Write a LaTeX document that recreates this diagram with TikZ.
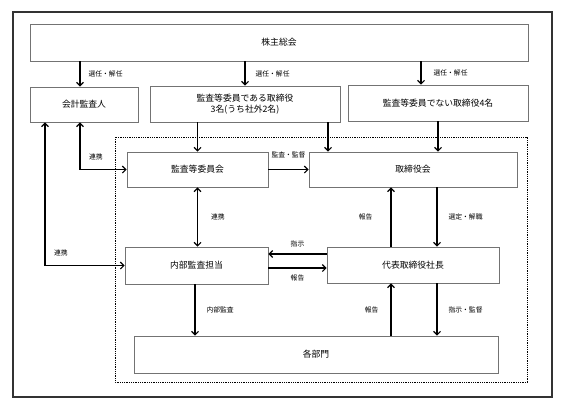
\documentclass[tikz,border=0pt]{standalone}
\usepackage{fontspec}
\newfontfamily\jpfont{Noto Sans CJK JP}
\usetikzlibrary{arrows.meta}
\tikzset{
  % basis voor de blokken
  blok/.style={%
    draw=black!55,
    line width=0.9pt,
    align=center,
    inner sep=2pt,
    font=\jpfont\fontsize{8.8}{11.5}\selectfont
  },
  maat/.style 2 args={minimum width=#1, minimum height=#2},
  % pijlen
  pijl/.style={-{Straight Barb[length=3.5pt,width=7pt]}, line width=1.1pt},
  tweepijl/.style={{Straight Barb[length=3.5pt,width=7pt]}-{Straight Barb[length=3.5pt,width=7pt]}, line width=1.1pt},
  % kleine tekst bij de pijlen
  tekst/.style={font=\jpfont\fontsize{6.8}{8}\selectfont, inner sep=0pt}
}

\begin{document}
\begin{tikzpicture}[x=1pt, y=-1pt]

  \useasboundingbox (0,0) rectangle (569,410);

  % --- kaders ---
  \draw[line width=1.4pt, black!80] (13,12) rectangle (552,397);
  \draw[densely dotted, line width=0.8pt] (115,137) rectangle (527,382);

  % --- blokken ---
  \node[blok, maat={498pt}{37pt}] (soukai)      at (279,42.5)  {株主総会};
  \node[blok, maat={108pt}{35pt}] (kaikei)      at (84,104.5)  {会計監査人};
  \node[blok, maat={190pt}{36pt}] (kansatori)   at (245,104)   {監査等委員である取締役\\3名(うち社外2名)};
  \node[blok, maat={180pt}{36pt}] (torishimari) at (438,103)   {監査等委員でない取締役4名};
  \node[blok, maat={141pt}{35pt}] (iinkai)      at (197.5,169.5) {監査等委員会};
  \node[blok, maat={208pt}{35pt}] (torikai)     at (413,169.5) {取締役会};
  \node[blok, maat={143pt}{37pt}] (naibu)       at (196.5,265.5) {内部監査担当};
  \node[blok, maat={172pt}{36pt}] (shacho)      at (413,265)   {代表取締役社長};
  \node[blok, maat={364pt}{37pt}] (bumon)       at (316,354.5) {各部門};

  % --- hulplijnen voor de pijlen ---
  \coordinate (xa) at (45,0);
  \coordinate (xb) at (80,0);
  \coordinate (xc) at (195,0);
  \coordinate (xe) at (328,0);
  \coordinate (xf) at (391,0);
  \coordinate (xg) at (421,0);
  \coordinate (xh) at (437,0);
  \coordinate (ya) at (0,254);
  \coordinate (yb) at (0,268);

  % --- pijlen ---
  \draw[pijl] (soukai.south -| xb) -- (kaikei.north -| xb)
    node[tekst, midway, right=8pt] (lbl1) {選任・解任};
  \draw[pijl] (soukai.south -| kansatori) -- (kansatori.north)
    node[tekst, midway, right=10pt] (lbl2) {選任・解任};
  \draw[pijl] (soukai.south -| xg) -- (torishimari.north -| xg)
    node[tekst, midway, right=12pt] (lbl3) {選任・解任};

  \draw[pijl] (kansatori.south -| iinkai) -- (iinkai.north);
  \draw[pijl] (kansatori.south -| xe) -- (torikai.north -| xe);
  \draw[pijl] (torishimari.south) -- (torikai.north -| torishimari);

  \draw[pijl] (iinkai.east) -- (torikai.west)
    node[tekst, midway, above=11pt] (lbl4) {監査・監督};

  \draw[tweepijl] (kaikei.south -| xb) |- (iinkai.west)
    node[tekst, pos=.67, above=9pt] (lbl5) {連携};
  \draw[tweepijl] (kaikei.south -| xa) |- (naibu.west)
    node[tekst, pos=.6, above=9pt] (lbl6) {連携};
  \draw[tweepijl] (iinkai.south) -- (naibu.north -| iinkai)
    node[tekst, midway, right=13pt] (lbl7) {連携};

  \draw[pijl] (shacho.north -| xf) -- (torikai.south -| xf)
    node[tekst, midway, left=18pt] (lbl8) {報告};
  \draw[pijl] (torikai.south -| xh) -- (shacho.north -| xh)
    node[tekst, midway, right=11pt] (lbl9) {選定・解職};

  \draw[pijl] (shacho.west |- ya) -- (naibu.east |- ya)
    node[tekst, midway, above=6pt] (lbl10) {指示};
  \draw[pijl] (naibu.east |- yb) -- (shacho.west |- yb)
    node[tekst, midway, below=6pt] (lbl11) {報告};

  \draw[pijl] (naibu.south -| xc) -- (bumon.north -| xc)
    node[tekst, midway, right=11pt] (lbl12) {内部監査};
  \draw[pijl] (bumon.north -| xf) -- (shacho.south -| xf)
    node[tekst, midway, left=12pt] (lbl13) {報告};
  \draw[pijl] (shacho.south -| xh) -- (bumon.north -| xh)
    node[tekst, midway, right=11pt] (lbl14) {指示・監督};

\end{tikzpicture}
\end{document}
